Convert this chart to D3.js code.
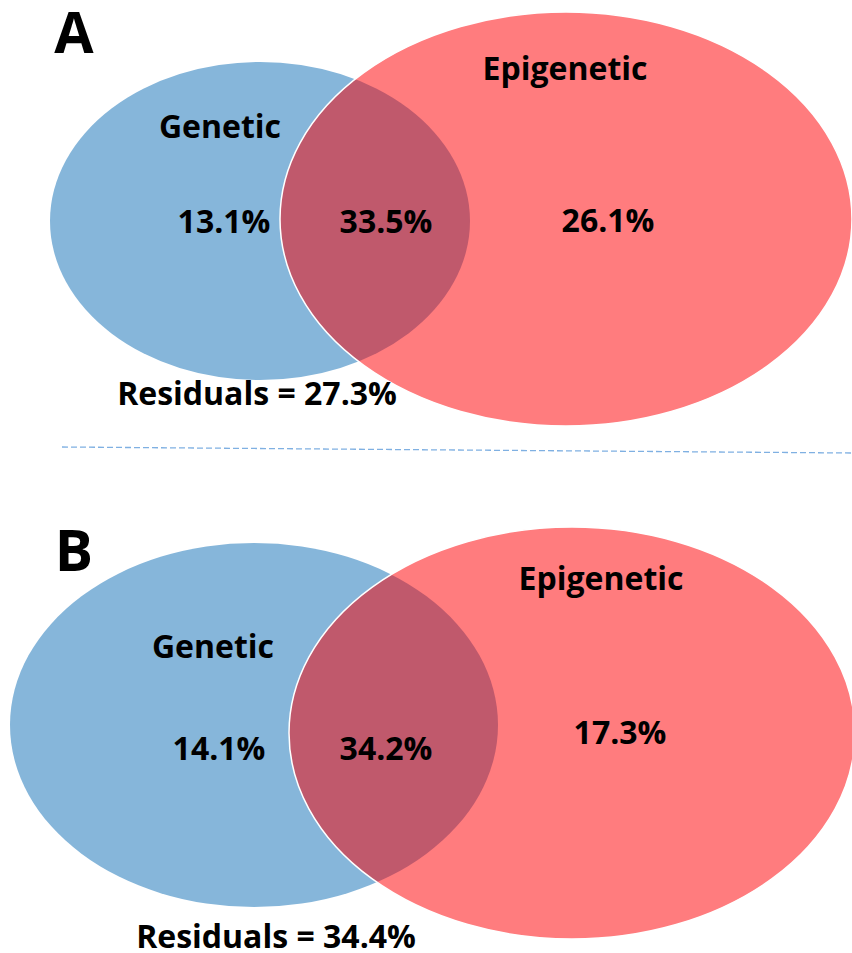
<!DOCTYPE html>
<html>
<head>
<meta charset="utf-8">
<script src="https://cdn.jsdelivr.net/npm/d3@7"></script>
<style>
  body { margin: 0; background: #fff; }
  text { font-family: "Open Sans", sans-serif; font-weight: 700; fill: #000; }
</style>
</head>
<body>
<script>
// data
var panels = ["A", "B"];
var setNames = ["Genetic", "Epigenetic"];
var geneticOnly = [13.1, 14.1];
var shared = [33.5, 34.2];
var epigeneticOnly = [26.1, 17.3];
var residuals = [27.3, 34.4];

// layout per panel (pixels)
var layout = [
    { letter: [74, 53], blue: [260, 221, 210, 159], red: [566, 219, 286, 207],
      gLab: [220, 138], eLab: [565, 80], gVal: [224, 233], sVal: [386, 233],
      eVal: [608, 232], res: [257, 405] },
    { letter: [74, 571], blue: [254, 725, 244, 182], red: [572, 733, 283, 206],
      gLab: [213, 658], eLab: [601, 590], gVal: [219, 760], sVal: [386, 760],
      eVal: [620, 744], res: [276, 948] }
];

var fmt = d3.format(".1f");
var W = 852, H = 953;

var svg = d3.select("body")
    .append("svg")
    .attr("width", W)
    .attr("height", H);

var defs = svg.append("defs");

panels.forEach(function (p, i) {
    var L = layout[i];
    var g = svg.append("g").attr("class", "panel-" + p);

    defs.append("clipPath")
        .attr("id", "clipBlue" + i)
        .append("ellipse")
        .attr("cx", L.blue[0]).attr("cy", L.blue[1])
        .attr("rx", L.blue[2]).attr("ry", L.blue[3]);

    // genetic set
    g.append("ellipse")
        .attr("cx", L.blue[0]).attr("cy", L.blue[1])
        .attr("rx", L.blue[2]).attr("ry", L.blue[3])
        .attr("fill", "#86B6DA");

    // epigenetic set
    g.append("ellipse")
        .attr("cx", L.red[0]).attr("cy", L.red[1])
        .attr("rx", L.red[2]).attr("ry", L.red[3])
        .attr("fill", "#FF7C7E");

    // overlap
    g.append("ellipse")
        .attr("clip-path", "url(#clipBlue" + i + ")")
        .attr("cx", L.red[0]).attr("cy", L.red[1])
        .attr("rx", L.red[2]).attr("ry", L.red[3])
        .attr("fill", "#C0596C");

    // white edge of the epigenetic set
    g.append("ellipse")
        .attr("cx", L.red[0]).attr("cy", L.red[1])
        .attr("rx", L.red[2]).attr("ry", L.red[3])
        .attr("fill", "none")
        .attr("stroke", "#fff")
        .attr("stroke-width", 1.5);

    g.append("text")
        .attr("x", L.letter[0]).attr("y", L.letter[1])
        .attr("text-anchor", "middle")
        .style("font-size", "57px")
        .text(p);

    var labels = [
        { pos: L.gLab, t: setNames[0] },
        { pos: L.eLab, t: setNames[1] },
        { pos: L.gVal, t: fmt(geneticOnly[i]) + "%" },
        { pos: L.sVal, t: fmt(shared[i]) + "%" },
        { pos: L.eVal, t: fmt(epigeneticOnly[i]) + "%" },
        { pos: L.res, t: "Residuals = " + fmt(residuals[i]) + "%" }
    ];

    g.selectAll("text.lab")
        .data(labels)
        .enter()
        .append("text")
        .attr("class", "lab")
        .attr("x", function (d) { return d.pos[0]; })
        .attr("y", function (d) { return d.pos[1]; })
        .attr("text-anchor", "middle")
        .style("font-size", "32px")
        .text(function (d) { return d.t; });
});

// divider between panels
svg.append("line")
    .attr("x1", 62).attr("y1", 447)
    .attr("x2", 852).attr("y2", 453)
    .attr("stroke", "#7FB0E2")
    .attr("stroke-width", 1.3)
    .attr("stroke-dasharray", "6,3");
</script>
</body>
</html>
